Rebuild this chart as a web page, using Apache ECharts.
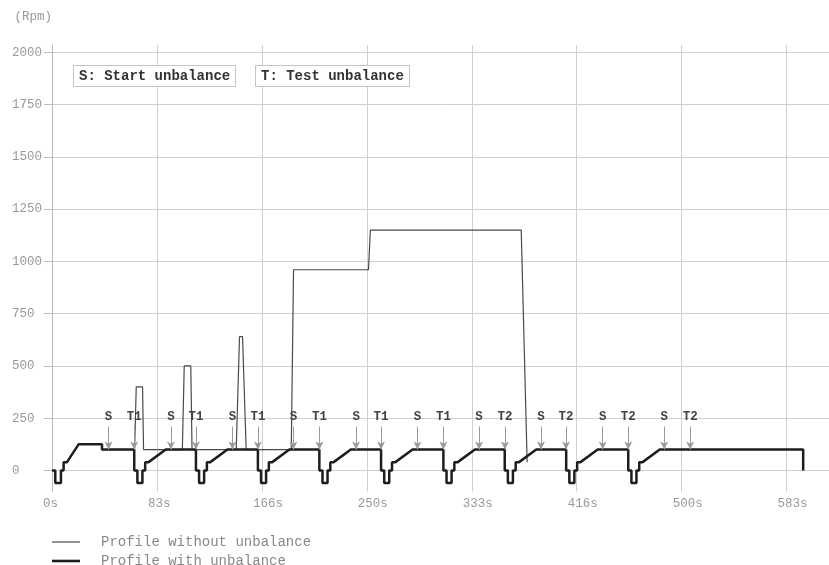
<!DOCTYPE html>
<html><head><meta charset="utf-8">
<script src="https://cdn.jsdelivr.net/npm/echarts@6/dist/echarts.min.js"></script>
<style>html,body{margin:0;padding:0;background:#fff}#c{width:829px;height:565px}</style>
</head><body><div id="c"></div>
<script>
const seriesNames = ['Profile without unbalance', 'Profile with unbalance'];

// [time s, rpm]
const profileWithout = [
  [0,0],[2.6,0],[2.6,-60],[7.1,-60],[7.1,0],[9.2,0],[9.2,40],[11.9,40],[21.1,125],[39.7,125],[39.7,100],
  [65.6,100],[66.9,400],[71.9,400],[72.7,100],
  [103.5,100],[105,500],[110.2,500],[111.2,100],
  [146.3,100],[148.9,640],[151.3,640],[154.2,100],
  [190,100],[191.8,960],[251.3,960],[252.8,1150],[372.6,1150],[377.3,40]
];

const profileWith = [
  [0,0],[2.6,0],[2.6,-60],[7.1,-60],[7.1,0],[9.2,0],[9.2,40],[11.9,40],[21.1,125],[39.7,125],[39.7,100],
  [65.3,100],[65.3,0],[67.8,0],[67.8,-60],[71.8,-60],[71.8,0],[74,0],[74,40],[76.7,40],[90.3,100],
  [114.3,100],[114.3,0],[116.8,0],[116.8,-60],[120.8,-60],[120.8,0],[123,0],[123,40],[125.7,40],[139.3,100],
  [163.5,100],[163.5,0],[166,0],[166,-60],[170,-60],[170,0],[172.2,0],[172.2,40],[174.9,40],[188.5,100],
  [212.3,100],[212.3,0],[214.8,0],[214.8,-60],[218.8,-60],[218.8,0],[221,0],[221,40],[223.7,40],[237.3,100],
  [261.3,100],[261.3,0],[263.8,0],[263.8,-60],[267.8,-60],[267.8,0],[270,0],[270,40],[272.7,40],[286.3,100],
  [310.8,100],[310.8,0],[313.3,0],[313.3,-60],[317.3,-60],[317.3,0],[319.5,0],[319.5,40],[322.2,40],[335.8,100],
  [359.5,100],[359.5,0],[362,0],[362,-60],[366,-60],[366,0],[368.2,0],[368.2,40],[370.9,40],[384.5,100],
  [408.3,100],[408.3,0],[410.8,0],[410.8,-60],[414.8,-60],[414.8,0],[417,0],[417,40],[419.7,40],[433.3,100],
  [457.6,100],[457.6,0],[460.1,0],[460.1,-60],[464.1,-60],[464.1,0],[466.3,0],[466.3,40],[469,40],[482.6,100],
  [596.5,100],[596.5,0]
];

const markerTimes = [44.9,65.3,94.4,114.3,143.3,163.5,191.7,212.4,241.5,261.3,290.2,310.8,339.1,359.7,388.3,408.2,437.3,457.6,486.2,506.8];
const markerNames = ['S','T1','S','T1','S','T1','S','T1','S','T1','S','T1','S','T2','S','T2','S','T2','S','T2'];

const xTickValues = [0, 83.3333, 166.6667, 250, 333.3333, 416.6667, 500, 583.3333];
const xTickLabels = ['0s','83s','166s','250s','333s','416s','500s','583s'];
const yTickValues = [0, 250, 500, 750, 1000, 1250, 1500, 1750, 2000];
const yTickLabels = ['0','250','500','750','1000','1250','1500','1750','2000'];

const annotations = ['S: Start unbalance', 'T: Test unbalance'];

const MONO = '"Liberation Mono", "DejaVu Sans Mono", monospace';
const chart = echarts.init(document.getElementById('c'));

const markData = markerTimes.map((t, i) => [
  { coord: [t, 210], name: markerNames[i] },
  { coord: [t, 100] }
]);

const boxStyle = { borderColor: '#c4c4c4', borderWidth: 1, padding: [4, 6, 4, 6], backgroundColor: '#fff',
  textStyle: { fontFamily: MONO, fontSize: 14, fontWeight: 'bold', color: '#333' } };

chart.setOption({
  animation: false,
  backgroundColor: '#fff',
  title: [
    Object.assign({ text: annotations[0], left: 73, top: 65 }, boxStyle),
    Object.assign({ text: annotations[1], left: 255, top: 65 }, boxStyle)
  ],
  legend: {
    orient: 'vertical', left: 52, top: 535, height: 60, padding: 0, itemWidth: 28, itemHeight: 12, itemGap: 5,
    symbolKeepAspect: true,
    data: [
      { name: seriesNames[0], icon: 'path://M0 0H28V1.2H0Z' },
      { name: seriesNames[1], icon: 'path://M0 0H28V2.6H0Z' }
    ],
    textStyle: { fontFamily: MONO, fontSize: 14, color: '#888', padding: [0, 0, 0, 16] }
  },
  grid: { left: 52, right: 0, top: 45, bottom: 73.6 },
  xAxis: {
    type: 'value', min: 0, max: 617,
    axisLine: { show: false },
    axisTick: { show: false, customValues: xTickValues },
    splitLine: { show: true, lineStyle: { color: '#cfcfcf', width: 1 } },
    axisLabel: {
      customValues: xTickValues,
      formatter: (v) => { const i = xTickValues.findIndex(x => Math.abs(x - v) < 0.01); return i >= 0 ? xTickLabels[i] : ''; },
      align: 'left', padding: [0, 0, 0, -9], margin: 6,
      fontFamily: MONO, fontSize: 12.5, color: '#999'
    }
  },
  yAxis: {
    type: 'value', min: -100, max: 2035,
    name: '(Rpm)', nameLocation: 'end', nameGap: 28,
    nameTextStyle: { fontFamily: MONO, fontSize: 12.5, color: '#999', align: 'right', verticalAlign: 'middle' },
    axisLine: { show: true, lineStyle: { color: '#bdbdbd' } },
    axisTick: { show: true, inside: false, length: 8, customValues: yTickValues, lineStyle: { color: '#bdbdbd' } },
    splitLine: { show: true, lineStyle: { color: '#cfcfcf', width: 1 } },
    axisLabel: {
      customValues: yTickValues, align: 'left', margin: 40,
      formatter: (v) => { const i = yTickValues.indexOf(Math.round(v)); return i >= 0 ? yTickLabels[i] : ''; },
      fontFamily: MONO, fontSize: 12.5, color: '#999'
    }
  },
  series: [
    {
      name: seriesNames[0], type: 'line', data: profileWithout, showSymbol: false, symbol: 'none',
      lineStyle: { color: '#4a4a4a', width: 1.2 }, itemStyle: { color: '#4a4a4a' }, z: 2
    },
    {
      name: seriesNames[1], type: 'line', data: profileWith, showSymbol: false, symbol: 'none',
      lineStyle: { color: '#1e1e1e', width: 2.5 }, itemStyle: { color: '#1e1e1e' }, z: 3,
      markLine: {
        silent: true, symbol: ['none', 'arrow'], symbolSize: [6, 8], precision: 2,
        lineStyle: { color: '#9a9a9a', width: 1, type: 'solid' },
        label: { show: true, position: 'start', formatter: '{b}', distance: 3,
          fontFamily: MONO, fontSize: 12.5, fontWeight: 'bold', color: '#444' },
        data: markData
      }
    }
  ]
});
</script>
</body></html>
